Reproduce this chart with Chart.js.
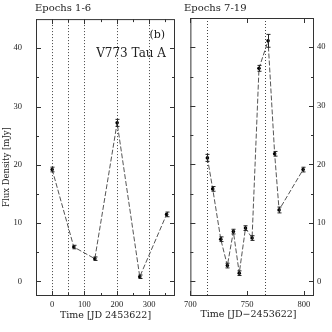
<!DOCTYPE html>
<html><head><meta charset="utf-8">
<script src="https://cdn.jsdelivr.net/npm/chart.js@4"></script>
<style>
html,body{margin:0;padding:0;background:#fff;width:332px;height:332px;overflow:hidden}
#c1{position:absolute;left:0;top:0}
#c2{position:absolute;left:180px;top:0}
</style></head><body>
<canvas id="c1" width="180" height="332"></canvas>
<canvas id="c2" width="152" height="332"></canvas>
<script>
// ---- data ----
const epochsA = [0, 67, 132, 201, 271, 354];
const fluxA   = [19.2, 5.9, 3.9, 27.2, 0.8, 11.5];
const errA    = [0.4, 0.3, 0.3, 0.6, 0.3, 0.4];

const epochsB = [715, 719.7, 726.8, 732.6, 737.9, 743.1, 748.6, 754.4, 760.5, 768.5, 774.3, 778.2, 799.4];
const fluxB   = [21.1, 15.8, 7.2, 2.7, 8.5, 1.4, 9.1, 7.4, 36.4, 41.1, 21.8, 12.2, 19.1];
const errB    = [0.6, 0.4, 0.4, 0.4, 0.4, 0.4, 0.4, 0.4, 0.5, 1.1, 0.4, 0.5, 0.4];

const markerLinesA = [0, 50, 100, 200, 300];
const markerLinesB = [715, 765.5];

const xTicksA = [0, 100, 200, 300];
const xMinorA = [-50, 50, 150, 250, 350];
const xTicksB = [700, 750, 800];
const xMinorB = [];
const yTicks  = [0, 10, 20, 30, 40];
const yMinor  = [5, 15, 25, 35];

const titleA = 'Epochs 1-6';
const titleB = 'Epochs 7-19';
const xLabelA = 'Time [JD 2453622]';
const xLabelB = 'Time [JD\u22122453622]';
const yLabel = 'Flux Density [mJy]';
const panelTag = '(b)';
const starName = 'V773 Tau A';

const FONT = "'DejaVu Serif', 'Liberation Serif', serif";
const TFONT = "'Liberation Serif', 'DejaVu Serif', serif";
const INK = '#222';

function deco(cfg) {
  return {
    id: 'deco',
    beforeDatasetsDraw(chart) {
      const {ctx, chartArea: a, scales: {x, y}} = chart;
      ctx.save();
      ctx.strokeStyle = '#444';
      ctx.lineWidth = 1;
      ctx.setLineDash([1, 2]);
      cfg.vlines.forEach(v => {
        const px = Math.round(x.getPixelForValue(v)) + 0.5;
        ctx.beginPath(); ctx.moveTo(px, a.top); ctx.lineTo(px, a.bottom); ctx.stroke();
      });
      ctx.restore();
    },
    afterDatasetsDraw(chart) {
      const {ctx, chartArea: a, scales: {x, y}} = chart;
      ctx.save();
      // error bars
      ctx.strokeStyle = '#222';
      ctx.lineWidth = 1;
      cfg.xs.forEach((xv, i) => {
        const px = Math.round(x.getPixelForValue(xv)) + 0.5;
        const y1 = y.getPixelForValue(cfg.ys[i] - cfg.errs[i]);
        const y2 = y.getPixelForValue(cfg.ys[i] + cfg.errs[i]);
        ctx.beginPath();
        ctx.moveTo(px, y1); ctx.lineTo(px, y2);
        ctx.moveTo(px - 2, y1); ctx.lineTo(px + 2, y1);
        ctx.moveTo(px - 2, y2); ctx.lineTo(px + 2, y2);
        ctx.stroke();
      });
      // frame
      ctx.strokeStyle = '#333';
      ctx.strokeRect(a.left + 0.5, a.top + 0.5, a.right - a.left - 1, a.bottom - a.top - 1);
      // inward ticks
      ctx.beginPath();
      const yt = (v, len) => {
        const py = Math.round(y.getPixelForValue(v)) + 0.5;
        ctx.moveTo(a.left, py); ctx.lineTo(a.left + len, py);
        ctx.moveTo(a.right, py); ctx.lineTo(a.right - len, py);
      };
      const xt = (v, len) => {
        if (v < x.min || v > x.max) return;
        const px = Math.round(x.getPixelForValue(v)) + 0.5;
        ctx.moveTo(px, a.bottom); ctx.lineTo(px, a.bottom - len);
        ctx.moveTo(px, a.top); ctx.lineTo(px, a.top + len);
      };
      yTicks.forEach(v => yt(v, 5));
      yMinor.forEach(v => yt(v, 3));
      cfg.xMajor.forEach(v => xt(v, 5));
      cfg.xMinor.forEach(v => xt(v, 3));
      ctx.stroke();
      // texts
      ctx.fillStyle = INK;
      ctx.textBaseline = 'middle';
      cfg.texts.forEach(t => {
        ctx.font = t.size + 'px ' + FONT;
        ctx.textAlign = t.align || 'left';
        if (t.rot) {
          ctx.save(); ctx.translate(t.x, t.y); ctx.rotate(-Math.PI / 2);
          ctx.fillText(t.s, 0, 0); ctx.restore();
        } else {
          ctx.fillText(t.s, t.x, t.y);
        }
      });
      ctx.restore();
    }
  };
}

function makeChart(id, xs, ys, errs, xMin, xMax, xMajor, xMinor, vlines, yPos, yWidth, pad, texts) {
  const xLabelSet = xMajor;
  return new Chart(document.getElementById(id), {
    type: 'line',
    data: {
      datasets: [{
        data: xs.map((v, i) => ({x: v, y: ys[i]})),
        borderColor: '#555',
        borderWidth: 1,
        borderDash: [5, 2],
        pointRadius: 1.8,
        pointBackgroundColor: '#000',
        pointBorderWidth: 0,
        tension: 0
      }]
    },
    options: {
      responsive: false,
      animation: false,
      layout: {padding: pad},
      plugins: {legend: {display: false}, tooltip: {enabled: false}},
      scales: {
        x: {
          type: 'linear', min: xMin, max: xMax,
          grid: {display: false, drawTicks: false},
          border: {display: false},
          afterBuildTicks: s => { s.ticks = xLabelSet.map(v => ({value: v})); },
          afterFit: s => { s.height = 36; },
          ticks: {padding: 4, color: INK, font: {family: TFONT, size: 8.5}, maxRotation: 0, autoSkip: false}
        },
        y: {
          position: yPos,
          min: -2.5, max: 45,
          grid: {display: false, drawTicks: false},
          border: {display: false},
          afterBuildTicks: s => { s.ticks = yTicks.map(v => ({value: v})); },
          afterFit: s => { s.width = yWidth; },
          ticks: {padding: yPos === 'left' ? 14 : 3, color: INK, font: {family: TFONT, size: 8.5}}
        }
      }
    },
    plugins: [deco({xs, ys, errs, vlines, xMajor, xMinor, texts})]
  });
}

makeChart('c1', epochsA, fluxA, errA, -50, 380, xTicksA, xMinorA, markerLinesA, 'left', 36,
  {top: 18, right: 5, left: 0, bottom: 0},
  [
    {s: titleA, x: 35, y: 8, size: 10},
    {s: panelTag, x: 165, y: 35, size: 11, align: 'right'},
    {s: starName, x: 166, y: 54, size: 12, align: 'right'},
    {s: xLabelA, x: 105.5, y: 316, size: 9.5, align: 'center'},
    {s: yLabel, x: 7, y: 167, size: 8.5, align: 'center', rot: true}
  ]);

makeChart('c2', epochsB, fluxB, errB, 700, 809, xTicksB, xMinorB, markerLinesB, 'right', 18,
  {top: 18, right: 0, left: 3, bottom: 0},
  [
    {s: titleB, x: 4, y: 8, size: 10},
    {s: xLabelB, x: 68.5, y: 315, size: 9.5, align: 'center'}
  ]);
</script>
</body></html>
